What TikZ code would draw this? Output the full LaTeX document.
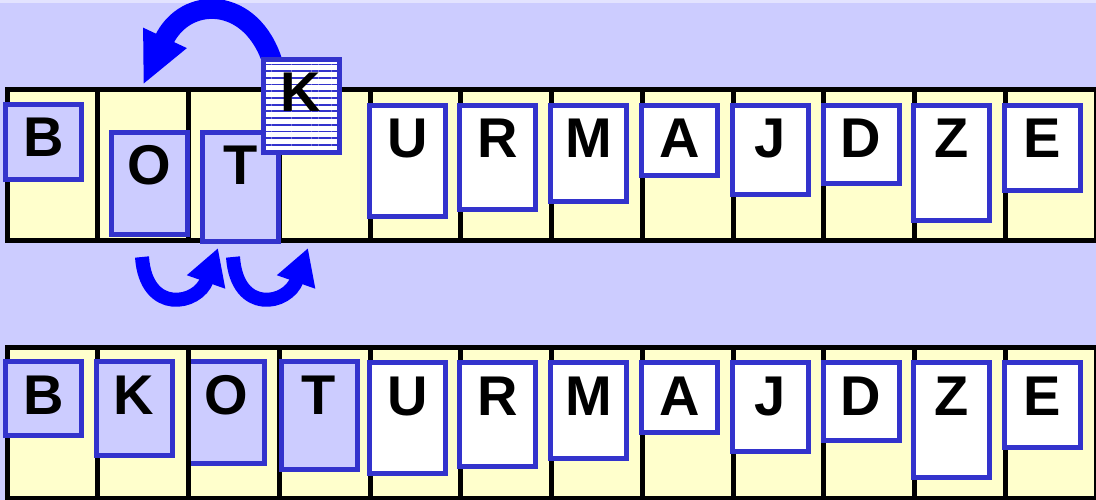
\documentclass[tikz,border=0pt]{standalone}
\usepackage{fontspec}
\setmainfont{Liberation Sans}
\usepackage{xcolor}
\usetikzlibrary{arrows.meta, patterns.meta, calc}
\definecolor{skycolor}{HTML}{CCCCFF}
\definecolor{slotcolor}{HTML}{FFFFCC}
\definecolor{cardcolor}{HTML}{3333CC}
\definecolor{movecolor}{HTML}{0000FF}
\pgfdeclarelayer{back}
\pgfdeclarelayer{flow}
\pgfsetlayers{back,flow,main}

\begin{document}
\begin{tikzpicture}[
    x=1pt, y=-1pt,
    slot/.style={draw=black, line width=5pt, fill=slotcolor},
    slotline/.style={draw=black, line width=5pt},
    card/.style={rectangle, draw=cardcolor, line width=5pt, anchor=north, outer sep=0pt, inner sep=0pt, minimum width=76pt},
    moved/.style={card, fill=skycolor},
    kept/.style={card, fill=white},
    striped/.style={card, preaction={fill=white}, pattern={Lines[angle=0, distance=6.7pt, line width=1.8pt]}, pattern color=cardcolor},
    letter/.style={font=\fontsize{56}{60}\selectfont\bfseries, anchor=base, inner sep=0pt},
    hop/.style={line width=14pt, movecolor, -{Triangle[length=36pt, width=38pt]}},
    leap/.style={line width=20pt, movecolor, -{Triangle[length=52pt, width=44pt]}}
]
\useasboundingbox (0,0) rectangle (1096,500);

\begin{pgfonlayer}{back}
\fill[skycolor] (0,0) rectangle (1096,500);
\fill[skycolor!55!white] (0,0) rectangle (1096,3);
\end{pgfonlayer}

% -- the two rows of slots --
\foreach \top in {89.5, 347.5} {
    \draw[slot] (7,\top) rectangle (1096,{\top+150.5});
    \foreach \k in {1,...,11}
        \draw[slotline] ({7+90.75*\k},\top) -- ++(0,150.5);
}

% -- ROW 1: K is lifted out --
\node[moved, minimum height=75pt] (b1) at (43.5,104.5) {};
\node[letter] (b1t) at ([yshift=-52.5pt]b1.north) {B};
\node[moved, minimum height=102pt] (o1) at (149,132.5) {};
\node[letter] (o1t) at ([yshift=-52.5pt]o1.north) {O};
\node[moved, minimum height=109pt] (t1) at (240.5,132.5) {};
\node[letter] (t1t) at ([yshift=-52.5pt]t1.north) {T};
\node[striped, minimum height=93pt] (k1) at (301,59.5) {};
\node[letter] (k1t) at ([yshift=-52.5pt]k1.north) {K};

% -- ROW 2: K put in place --
\node[moved, minimum height=74pt] (b2) at (43.5,361.5) {};
\node[letter] (b2t) at ([yshift=-52.5pt]b2.north) {B};
\node[moved, minimum height=94pt] (k2) at (134,361.5) {};
\node[letter] (k2t) at ([yshift=-52.5pt]k2.north) {K};
\node[moved, minimum height=102pt] (o2) at (226,361.5) {};
\node[letter] (o2t) at ([yshift=-52.5pt]o2.north) {O};
\node[moved, minimum height=108pt] (t2) at (319,361.5) {};
\node[letter] (t2t) at ([yshift=-52.5pt]t2.north) {T};
\draw[slotline] (188.5,347.5) -- ++(0,150.5);

% -- untouched cards, same in both rows --
\foreach \ltr/\cx/\h in {U/407.5/111, R/497.5/104, M/588.5/96, A/679.5/70, J/770/89, D/861/78, Z/951.5/115, E/1042.5/85} {
    \foreach \row/\top in {1/105.5, 2/362.5} {
        \node[kept, minimum height=\h pt] (\ltr\row) at (\cx,\top) {};
        \node[letter] (\ltr\row t) at ([yshift=-52.5pt]\ltr\row.north) {\ltr};
    }
}

% -- moves --
\coordinate (free4) at (308,248);
\begin{pgfonlayer}{flow}
\draw[leap] ([xshift=-28pt, yshift=-4pt]k1.north) .. controls +(-21,-68.5) and +(42,-90) .. ([xshift=-6pt, yshift=47.5pt]o1.north);
\draw[hop] ([xshift=-7pt, yshift=-22.5pt]o1.south) .. controls +(4,58) and +(-20,57) .. ([xshift=-22.5pt, yshift=-6.5pt]t1.south);
\draw[hop] ([xshift=-7.5pt, yshift=-15.5pt]t1.south) .. controls +(4,58) and +(-20,57) .. (free4);
\end{pgfonlayer}

\end{tikzpicture}
\end{document}
